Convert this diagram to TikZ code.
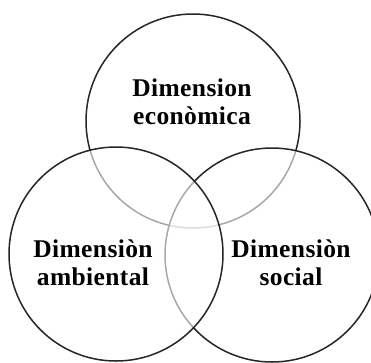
\documentclass[tikz,border=0pt]{standalone}
\usepackage{fontspec}
\setmainfont{Liberation Serif}[LetterSpace=1.5]
\usepackage{tikz}

\begin{document}
\begin{tikzpicture}[x=1pt, y=-1pt,
  every node/.style={font=\bfseries\fontsize{25.5}{28}\selectfont, align=center, inner sep=0pt, outer sep=0pt},
  ring/.style={draw=black!85, line width=1.5pt, fill=white, fill opacity=0.6}]
\useasboundingbox (0,0) rectangle (371,362);

% the three dimensions, later rings wash out the ones below
\draw[ring] (193,121) circle (107);
\draw[ring] (272,255) circle (107);
\draw[ring] (116,254) circle (107);

\node (econ) at (192,102) {Dimension\\econòmica};
\node (amb) at (93,263) {Dimensiòn\\ambiental};
\node (soc) at (291,263) {Dimensiòn\\social};
\end{tikzpicture}
\end{document}
